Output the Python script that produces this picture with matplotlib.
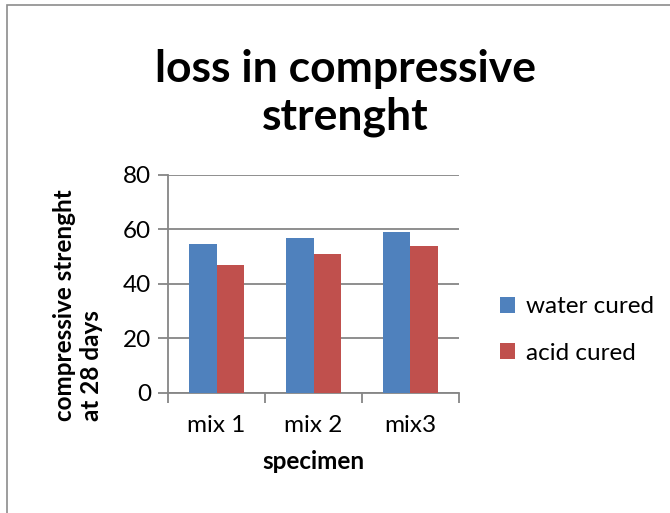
import numpy as np
import matplotlib.pyplot as plt
from matplotlib.patches import Rectangle

specimens = ['mix 1', 'mix 2', 'mix3']
water_cured = [54.5, 57, 59]
acid_cured = [47, 51, 54]
y_ticks = [0, 20, 40, 60, 80]

blue = '#4F81BD'
red = '#C0504D'
grid_grey = '#868686'

plt.rcParams['font.family'] = ['Lato', 'DejaVu Sans']

W, H = 670, 513
fig = plt.figure(figsize=(W / 100, H / 100), dpi=100)

# outer chart frame
fig.patches.append(Rectangle((7 / W, -0.1), 1.2, 1 - 5 / H + 0.1, transform=fig.transFigure,
                             fill=False, edgecolor='#8c8c8c', linewidth=1.2))

ax = fig.add_axes([168 / W, 1 - 392.5 / H, (459 - 168) / W, (392.5 - 175) / H])

x = np.arange(len(specimens))
bw = 0.285
ax.bar(x - bw / 2, water_cured, bw, color=blue, label='water cured', zorder=3)
ax.bar(x + bw / 2, acid_cured, bw, color=red, label='acid cured', zorder=3)

ax.set_xlim(-0.5, len(specimens) - 0.5)
ax.set_ylim(0, 80)
ax.set_yticks(y_ticks)
ax.set_xticks(np.arange(len(specimens) + 1) - 0.5)
ax.set_xticklabels([])
ax.set_xticks(x, minor=True)
ax.set_xticklabels(specimens, minor=True, fontsize=17.5)
ax.tick_params(axis='x', which='minor', length=0, pad=16)
ax.tick_params(axis='x', which='major', length=7, width=1.3, color=grid_grey, direction='out')
ax.tick_params(axis='y', length=7, width=1.3, color=grid_grey, direction='out', labelsize=17.5, pad=5)

ax.grid(axis='y', color=grid_grey, linewidth=1.3, zorder=0)
for side in ['top', 'right']:
    ax.spines[side].set_visible(False)
for side in ['left', 'bottom']:
    ax.spines[side].set_color(grid_grey)
    ax.spines[side].set_linewidth(1.3)

ax.set_xlabel('specimen', fontsize=17.5, fontweight='bold', labelpad=10)
fig.text(78 / W, 1 - 305 / H, 'compressive strenght\nat 28 days', rotation=90, ha='center', va='center',
         multialignment='left', fontsize=17.5, fontweight='bold', linespacing=1.25)

fig.text(345 / W, 1 - 93 / H, 'loss in compressive\nstrenght', ha='center', va='center',
         fontsize=32, fontweight='bold', linespacing=1.2)

fig.legend(loc='center left', bbox_to_anchor=(478 / W, 1 - 330 / H), frameon=False,
           fontsize=17.5, handlelength=0.62, handleheight=0.62, handletextpad=0.45, labelspacing=1.05)

fig.savefig('out.png', dpi=100)
